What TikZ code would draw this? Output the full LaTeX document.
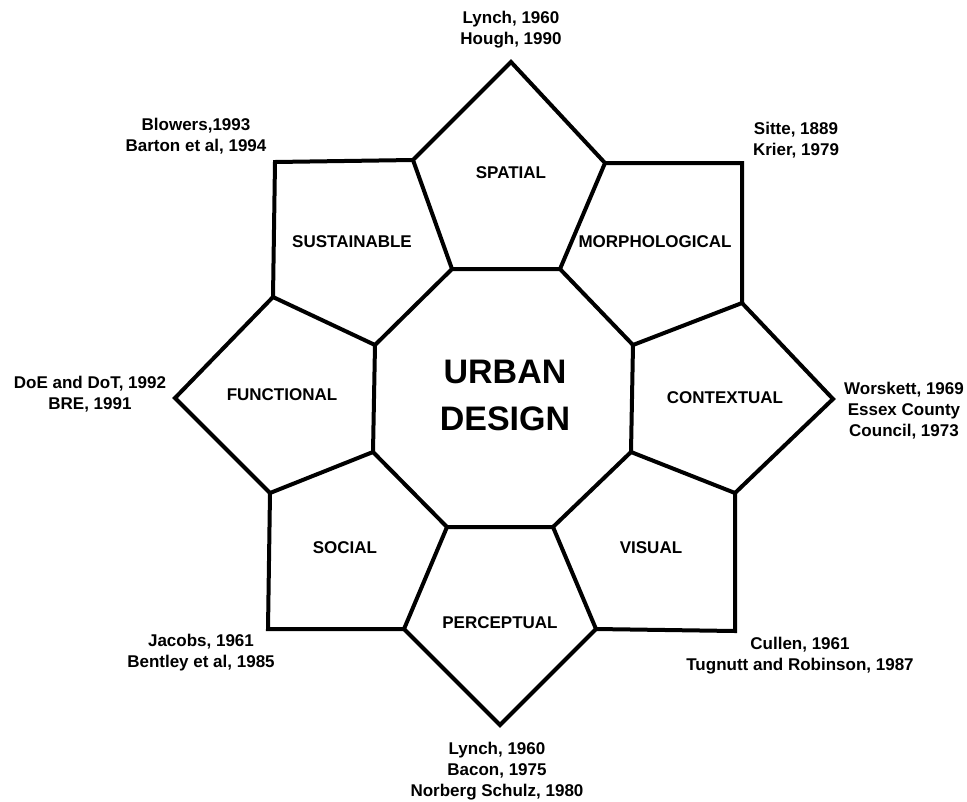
\documentclass[tikz,border=0pt]{standalone}
\usepackage{fontspec}
\setmainfont{Liberation Sans}
\usepackage{tikz}

\begin{document}
\begin{tikzpicture}[x=1pt, y=-1pt, line width=4pt, line join=miter,
    cat/.style={font=\fontsize{17}{21}\selectfont\bfseries, inner sep=0pt},
    ref/.style={font=\fontsize{17}{21}\selectfont\bfseries, align=center, inner sep=0pt},
    core/.style={font=\fontsize{34}{47}\selectfont\bfseries, align=center, inner sep=0pt}]
    \useasboundingbox (0,0) rectangle (967,801);

    % central octagon
    \coordinate (o1) at (452,269);
    \coordinate (o2) at (560,269);
    \coordinate (o3) at (633,345);
    \coordinate (o4) at (631,452);
    \coordinate (o5) at (553,527);
    \coordinate (o6) at (447,527);
    \coordinate (o7) at (373,452);
    \coordinate (o8) at (375,345);

    % outer ring
    \coordinate (sl) at (413,160);
    \coordinate (tp) at (511,62);
    \coordinate (sr) at (605,163);
    \coordinate (ul) at (275,162);
    \coordinate (ml) at (273,297);
    \coordinate (ur) at (742,163);
    \coordinate (mr) at (742,303);
    \coordinate (lp) at (175,398);
    \coordinate (ll) at (270,493);
    \coordinate (rp) at (833,399);
    \coordinate (rl) at (735,493);
    \coordinate (bl) at (268,629);
    \coordinate (pl) at (404,629);
    \coordinate (bp) at (500,725);
    \coordinate (pr) at (596,629);
    \coordinate (br) at (735,631);

    \draw (o1) -- (o2) -- (o3) -- (o4) -- (o5) -- (o6) -- (o7) -- (o8) -- cycle;
    \draw (o1) -- (sl) -- (tp) -- (sr) -- (o2);
    \draw (sl) -- (ul) -- (ml) -- (o8);
    \draw (sr) -- (ur) -- (mr) -- (o3);
    \draw (ml) -- (lp) -- (ll) -- (o7);
    \draw (mr) -- (rp) -- (rl) -- (o4);
    \draw (ll) -- (bl) -- (pl) -- (o6);
    \draw (rl) -- (br) -- (pr) -- (o5);
    \draw (pl) -- (bp) -- (pr);

    \node[core] (urban) at (505,395) {URBAN\\DESIGN};

    \node[cat] (spatial) at (511,173) {SPATIAL};
    \node[cat] (sustain) at (352,242) {SUSTAINABLE};
    \node[cat] (morph) at (655,242) {MORPHOLOGICAL};
    \node[cat] (func) at (282,395) {FUNCTIONAL};
    \node[cat] (context) at (725,398) {CONTEXTUAL};
    \node[cat] (social) at (345,548) {SOCIAL};
    \node[cat] (visual) at (651,548) {VISUAL};
    \node[cat] (percep) at (500,623) {PERCEPTUAL};

    \node[ref] (rspatial) at (511,30) {Lynch, 1960\\Hough, 1990};
    \node[ref] (rsustain) at (196,136) {Blowers,1993\\Barton et al, 1994};
    \node[ref] (rmorph) at (796,140) {Sitte, 1889\\Krier, 1979};
    \node[ref] (rfunc) at (90,394) {DoE and DoT, 1992\\BRE, 1991};
    \node[ref] (rcontext) at (904,411) {Worskett, 1969\\Essex County\\Council, 1973};
    \node[ref] (rsocial) at (201,653) {Jacobs, 1961\\Bentley et al, 1985};
    \node[ref] (rvisual) at (800,656) {Cullen, 1961\\Tugnutt and Robinson, 1987};
    \node[ref] (rpercep) at (497,771) {Lynch, 1960\\Bacon, 1975\\Norberg Schulz, 1980};
\end{tikzpicture}
\end{document}
